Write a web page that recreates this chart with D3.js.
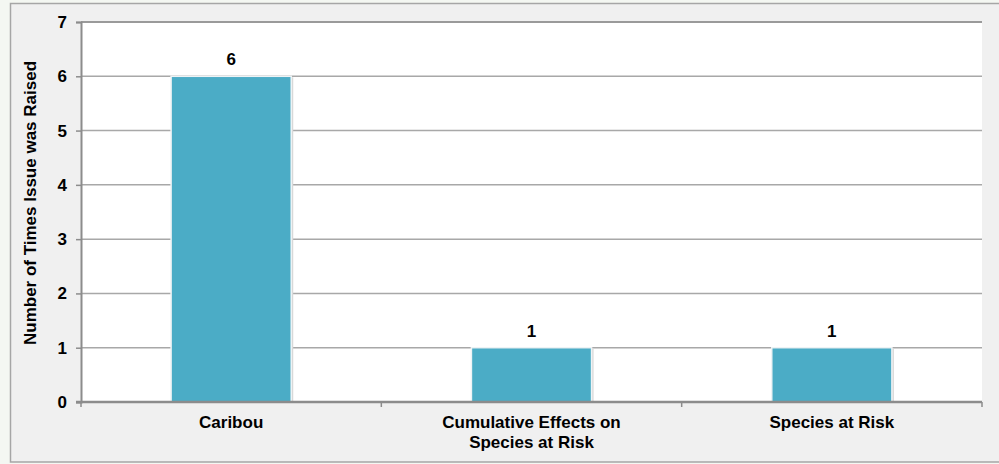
<!DOCTYPE html>
<html>
<head>
<meta charset="utf-8">
<script src="https://cdn.jsdelivr.net/npm/d3@7"></script>
<style>
  html, body { margin: 0; padding: 0; background: #f4f7f2; }
  svg { display: block; }
  text { font-family: "Liberation Sans", Arial, sans-serif; font-weight: bold; fill: #000; }
</style>
</head>
<body>
<svg id="chart" width="999" height="464"></svg>
<script>
// Issues raised, by topic
const categories = ["Caribou", "Cumulative Effects on\nSpecies at Risk", "Species at Risk"];
const counts = [6, 1, 1];
const yTicks = [0, 1, 2, 3, 4, 5, 6, 7];

const svg = d3.select("#chart");
const W = 999, H = 464;
const plot = { left: 81, top: 22, right: 982, bottom: 402 };
const FONT = "17px";

// outer frame
svg.append("rect")
  .attr("x", 10.5).attr("y", 3.5)
  .attr("width", W + 20).attr("height", 458.5)
  .attr("fill", "#f0f0f0")
  .attr("stroke", "#a6a6a6").attr("stroke-width", 1.5);

// plot area
svg.append("rect")
  .attr("x", plot.left).attr("y", plot.top)
  .attr("width", plot.right - plot.left).attr("height", plot.bottom - plot.top)
  .attr("fill", "#ffffff");

const x = d3.scaleBand()
  .domain(categories)
  .range([plot.left, plot.right])
  .paddingInner(0.6).paddingOuter(0.3);

const y = d3.scaleLinear().domain([0, 7]).range([plot.bottom, plot.top]);

// horizontal gridlines
svg.append("g")
  .selectAll("line")
  .data(yTicks.filter(d => d > 0))
  .join("line")
  .attr("x1", plot.left).attr("x2", plot.right)
  .attr("y1", d => y(d)).attr("y2", d => y(d))
  .attr("stroke", d => d === 7 ? "#9a9a9a" : "#a8a8a8")
  .attr("stroke-width", d => d === 7 ? 2 : 1.5);

// y axis
const yAxis = d3.axisLeft(y).tickValues(yTicks).tickSize(5).tickPadding(9).tickFormat(d3.format("d"));
const gy = svg.append("g").attr("transform", `translate(${plot.left},0)`).call(yAxis);
gy.select(".domain").attr("stroke", "#8c8c8c").attr("stroke-width", 2);
gy.selectAll(".tick line").attr("stroke", "#8c8c8c").attr("stroke-width", 1.5);
gy.selectAll(".tick text").style("font-size", FONT).style("font-family", "'Liberation Sans', Arial, sans-serif").style("font-weight", "bold").attr("fill", "#000");

// bar shadows
svg.append("g")
  .selectAll("rect")
  .data(counts)
  .join("rect")
  .attr("x", (d, i) => x(categories[i]) + 2)
  .attr("y", d => y(d) + 1)
  .attr("width", x.bandwidth())
  .attr("height", d => plot.bottom - y(d) - 1)
  .attr("fill", "#d8d8d8");

// bars
svg.append("g")
  .selectAll("rect")
  .data(counts)
  .join("rect")
  .attr("x", (d, i) => x(categories[i]))
  .attr("y", d => y(d))
  .attr("width", x.bandwidth())
  .attr("height", d => plot.bottom - y(d))
  .attr("fill", "#4bacc6")
  .attr("stroke", "#eef3f5")
  .attr("stroke-width", 1.5);

// value labels
svg.append("g")
  .selectAll("text")
  .data(counts)
  .join("text")
  .attr("x", (d, i) => x(categories[i]) + x.bandwidth() / 2)
  .attr("y", d => y(d) - 11)
  .attr("text-anchor", "middle")
  .style("font-size", FONT)
  .text(d => d);

// x axis
const xEdges = d3.scaleLinear().domain([0, categories.length]).range([plot.left, plot.right]);
const gx = svg.append("g");
gx.selectAll("line.tick")
  .data(d3.range(categories.length + 1))
  .join("line")
  .attr("class", "tick")
  .attr("x1", d => xEdges(d)).attr("x2", d => xEdges(d))
  .attr("y1", plot.bottom).attr("y2", plot.bottom + 5)
  .attr("stroke", "#8c8c8c").attr("stroke-width", 1.5);
gx.append("line")
  .attr("x1", plot.left - 5).attr("x2", plot.right)
  .attr("y1", plot.bottom).attr("y2", plot.bottom)
  .attr("stroke", "#8c8c8c").attr("stroke-width", 2.5);

// category labels
const cl = svg.append("g")
  .selectAll("text")
  .data(categories)
  .join("text")
  .attr("x", d => x(d) + x.bandwidth() / 2)
  .attr("y", 428)
  .attr("text-anchor", "middle")
  .style("font-size", FONT);
cl.selectAll("tspan")
  .data(d => d.split("\n"))
  .join("tspan")
  .attr("x", function () { return this.parentNode.getAttribute("x"); })
  .attr("dy", (d, i) => i === 0 ? 0 : 20)
  .text(d => d);

// y axis title
svg.append("text")
  .attr("transform", `translate(36,${(plot.top + plot.bottom) / 2 - 9}) rotate(-90)`)
  .attr("text-anchor", "middle")
  .style("font-size", FONT)
  .text("Number of Times Issue was Raised");
</script>
</body>
</html>
